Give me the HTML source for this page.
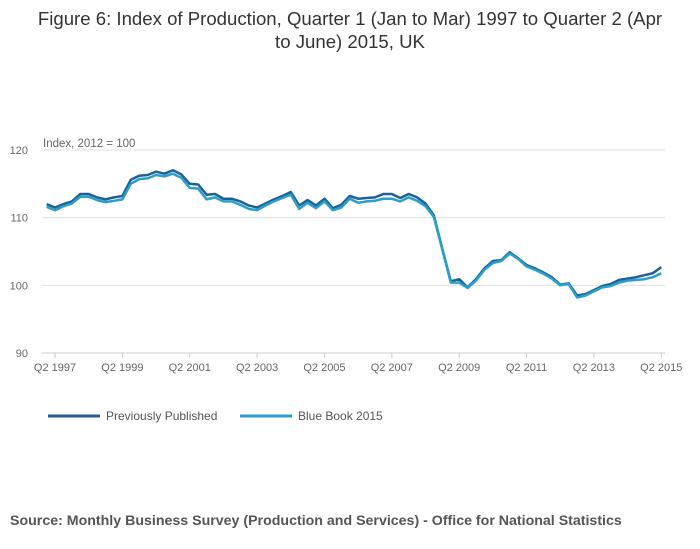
<!DOCTYPE html>
<html><head><meta charset="utf-8">
<style>
body{margin:0;background:#fff;font-family:"Liberation Sans",sans-serif;}
#wrap{position:relative;width:700px;height:549px;overflow:hidden;}
.title{position:absolute;left:0;top:7px;width:700px;text-align:center;font-size:18.6px;line-height:23px;color:#333;}
.src{position:absolute;left:10px;top:513px;font-size:14.2px;font-weight:bold;color:#555;}
</style></head><body>
<div id="wrap">
<div class="title">Figure 6: Index of Production, Quarter 1 (Jan to Mar) 1997 to Quarter 2 (Apr<br>to June) 2015, UK</div>
<svg id="chart" width="700" height="549" style="position:absolute;left:0;top:0"></svg>
<div class="src">Source: Monthly Business Survey (Production and Services) - Office for National Statistics</div>
</div>
<script>
const previouslyPublished=[112.0,111.5,112.0,112.4,113.5,113.5,113.0,112.7,113.0,113.2,115.6,116.2,116.3,116.8,116.5,117.0,116.4,115.0,114.9,113.4,113.5,112.8,112.8,112.4,111.8,111.5,112.1,112.7,113.2,113.8,111.8,112.6,111.8,112.8,111.4,111.9,113.2,112.8,112.9,113.0,113.5,113.5,112.9,113.5,113.0,112.1,110.3,105.4,100.6,100.9,99.7,100.9,102.5,103.6,103.7,104.9,104.0,103.0,102.5,101.9,101.2,100.1,100.3,98.5,98.7,99.3,99.9,100.2,100.8,101.0,101.2,101.5,101.8,102.7];
const blueBook2015=[111.6,111.1,111.7,112.1,113.1,113.1,112.6,112.3,112.5,112.7,115.0,115.7,115.8,116.3,116.1,116.5,115.9,114.4,114.3,112.7,113.0,112.4,112.4,111.9,111.3,111.1,111.8,112.4,112.9,113.4,111.3,112.2,111.4,112.4,111.1,111.5,112.8,112.2,112.4,112.5,112.8,112.8,112.4,113.0,112.5,111.7,110.1,105.3,100.4,100.4,99.6,100.7,102.3,103.3,103.6,104.7,103.9,102.8,102.3,101.7,101.0,100.0,100.2,98.2,98.5,99.1,99.7,99.9,100.4,100.7,100.8,100.9,101.2,101.8];
const yTicks=[90,100,110,120];
const xTickLabels=["Q2 1997","Q2 1999","Q2 2001","Q2 2003","Q2 2005","Q2 2007","Q2 2009","Q2 2011","Q2 2013","Q2 2015"];
const xTickIndex=[1,9,17,25,33,41,49,57,65,73];
const svg=document.getElementById('chart');
const NS='http://www.w3.org/2000/svg';
const X0=46.6,DX=8.42,Y120=150,Y90=353;
const xs=i=>X0+i*DX;
const ys=v=>Y90-(v-90)*(Y90-Y120)/30;
function mk(t,a){const e=document.createElementNS(NS,t);for(const k in a)e.setAttribute(k,a[k]);svg.appendChild(e);return e;}
yTicks.forEach(v=>{
 const l=mk('line',{x1:42,x2:665,y1:ys(v),y2:ys(v),stroke:v===90?'#ccc':'#e0e0e0','stroke-width':1});
 
 
 const t=mk('text',{x:28,y:ys(v)+4,'font-size':11,fill:'#666','text-anchor':'end'});
 t.textContent=v;
 
 
});
const yl=mk('text',{x:43,y:147,'font-size':11.5,fill:'#666'});
yl.textContent='Index, 2012 = 100';


xTickIndex.forEach((ix,k)=>{
 const tk=mk('line',{x1:xs(ix),x2:xs(ix),y1:353,y2:358,stroke:'#ccc'});
 
 
 const t=mk('text',{x:xs(ix),y:371,'font-size':11,fill:'#666','text-anchor':'middle'});
 t.textContent=xTickLabels[k];
 
 
});
function series(data,color,name){
 const d=data.map((v,i)=>(i?'L':'M')+xs(i).toFixed(1)+' '+ys(v).toFixed(1)).join(' ');
 const p=mk('path',{d:d,fill:'none',stroke:color,'stroke-width':2.5,'stroke-linejoin':'round'});
 
 
}
series(previouslyPublished,'#206095','line-previously-published');
series(blueBook2015,'#27a0cc','line-blue-book-2015');
[[48,'#206095','Previously Published','legend-previously-published'],[240,'#27a0cc','Blue Book 2015','legend-blue-book-2015']].forEach(a=>{
 const l=mk('line',{x1:a[0],x2:a[0]+52,y1:416,y2:416,stroke:a[1],'stroke-width':3});
 
 
 const t=mk('text',{x:a[0]+58,y:420,'font-size':12,fill:'#555'});
 t.textContent=a[2];
 
 
});
</script>
</body></html>
